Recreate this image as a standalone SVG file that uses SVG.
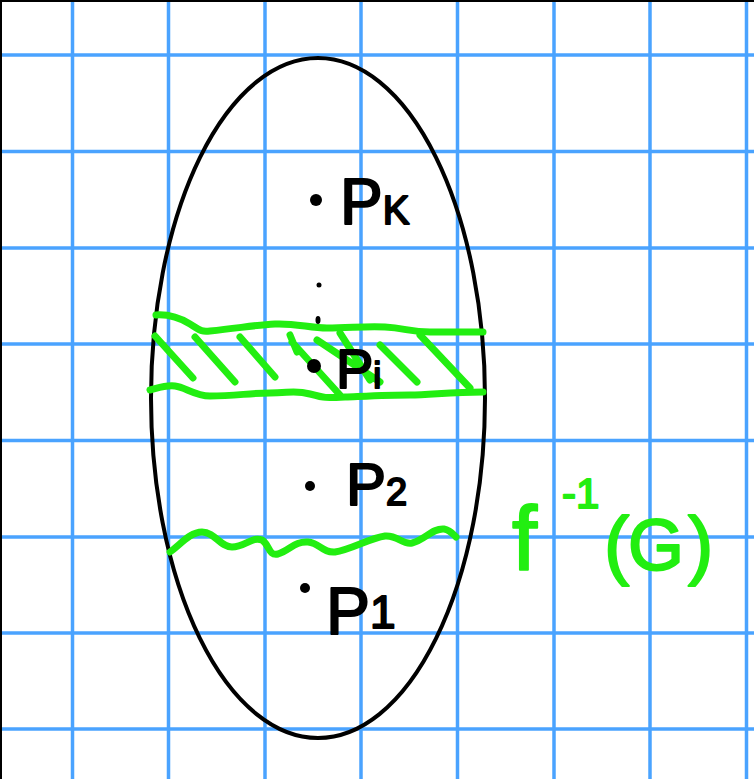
<svg xmlns="http://www.w3.org/2000/svg" width="754" height="779" viewBox="0 0 754 779">
<style>
.grid line{stroke:#4aa3ff;stroke-width:3.5}
.g{fill:none;stroke:#22ee11;stroke-width:7;stroke-linecap:round;stroke-linejoin:round}
.lbl{font-family:"Liberation Sans",Arial,sans-serif;fill:#000;stroke:#000;stroke-width:2;stroke-linejoin:round}
.glbl{font-family:"Liberation Sans",Arial,sans-serif;fill:#22ee11;stroke:#22ee11;stroke-width:2;stroke-linejoin:round}
</style>
<rect width="754" height="779" fill="#fff"/>
<g class="grid">
<line x1="72.5" y1="0" x2="72.5" y2="779"/>
<line x1="168.5" y1="0" x2="168.5" y2="779"/>
<line x1="265" y1="0" x2="265" y2="779"/>
<line x1="361" y1="0" x2="361" y2="779"/>
<line x1="457.5" y1="0" x2="457.5" y2="779"/>
<line x1="554" y1="0" x2="554" y2="779"/>
<line x1="650" y1="0" x2="650" y2="779"/>
<line x1="746.5" y1="0" x2="746.5" y2="779"/>
<line x1="0" y1="55" x2="754" y2="55"/>
<line x1="0" y1="151.5" x2="754" y2="151.5"/>
<line x1="0" y1="248" x2="754" y2="248"/>
<line x1="0" y1="344" x2="754" y2="344"/>
<line x1="0" y1="440.5" x2="754" y2="440.5"/>
<line x1="0" y1="537" x2="754" y2="537"/>
<line x1="0" y1="633" x2="754" y2="633"/>
<line x1="0" y1="729" x2="754" y2="729"/>
</g>
<path d="M0 1H754M1 0V779" stroke="#000" stroke-width="2"/>
<ellipse id="set" cx="318" cy="398" rx="167" ry="340" fill="none" stroke="#000" stroke-width="4"/>
<g id="band">
<path class="g" d="M156 315C170 314 180 318 190 324S200 332 210 331C240 328 255 325 275 324S310 328 327 328C350 328 365 326 385 327S410 332 430 332L483 332"/>
<path class="g" d="M150 390C158 388 165 385 175 386S195 396 210 396C235 396 250 393 270 393S295 390 310 394S325 398 345 397C370 396 390 395 410 395S450 392 483 392"/>
<path class="g" d="M155 336L193 378M195 337L235 382M240 337L275 377M290 335L297 352M292 342L340 395M317 340L380 382M340 333L370 380M380 345L417 382M420 335L470 388"/>
</g>
<path id="level" class="g" d="M170 552C180 545 190 532 202 532C215 532 220 547 232 547C245 547 252 536 262 540C270 545 268 556 278 554C290 550 295 541 308 542C320 543 322 553 335 552C350 550 370 538 385 536C398 535 402 545 412 543C425 540 432 528 444 529C450 530 453 534 456 537"/>
<g id="pK">
<circle cx="316" cy="200" r="6"/>
<text class="lbl" x="340" y="224" font-size="64">P<tspan font-size="40">K</tspan></text>
</g>
<g id="dots">
<circle cx="319" cy="285" r="2.5"/>
<ellipse cx="318" cy="320" rx="2.5" ry="4"/>
</g>
<g id="pi">
<circle cx="314" cy="366" r="7"/>
<text class="lbl" x="336" y="388" font-size="56">P<tspan font-size="36">i</tspan></text>
</g>
<g id="p2">
<circle cx="310" cy="486" r="5"/>
<text class="lbl" x="346" y="505" font-size="60">P<tspan font-size="38">2</tspan></text>
</g>
<g id="p1">
<circle cx="305" cy="588" r="5"/>
<text class="lbl" x="326" y="634" font-size="66">P<tspan font-size="46" dy="-6">1</tspan></text>
</g>
<g id="preimage">
<text class="glbl" font-size="90"><tspan x="512" y="570">f</tspan><tspan x="562" y="508" font-size="42">-1</tspan><tspan x="604" y="570" font-size="76">(</tspan><tspan x="628" y="570" font-size="72">G</tspan><tspan x="688" y="570" font-size="76">)</tspan></text>
</g>
</svg>
